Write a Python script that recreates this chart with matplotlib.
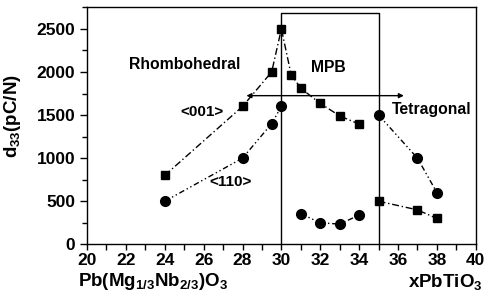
import numpy as np
import matplotlib.pyplot as plt

plt.rcParams['font.family'] = ['Liberation Sans', 'DejaVu Sans']
plt.rcParams['font.weight'] = 'bold'
plt.rcParams['mathtext.fontset'] = 'custom'
plt.rcParams['mathtext.rm'] = 'Liberation Sans:bold'
plt.rcParams['mathtext.it'] = 'Liberation Sans:bold'
plt.rcParams['mathtext.bf'] = 'Liberation Sans:bold'

# <001> squares, rhombohedral side + MPB
sq1_x = [24, 28, 29.5, 30, 30.5, 31, 32, 33, 34]
sq1_y = [800, 1600, 2000, 2500, 1970, 1810, 1635, 1490, 1395]
# <001> squares, tetragonal side
sq2_x = [35, 37, 38]
sq2_y = [500, 400, 300]
# <110> circles
ci1_x = [24, 28, 29.5, 30]
ci1_y = [500, 1000, 1400, 1600]
ci2_x = [31, 32, 33, 34]
ci2_y = [355, 250, 235, 340]
ci3_x = [35, 37, 38]
ci3_y = [1500, 1000, 600]

fig = plt.figure(figsize=(4.86, 2.98), dpi=100)
ax = fig.add_axes([0.179, 0.180, 0.800, 0.7955])

ls_sq = (0, (5, 2, 1, 2))
ls_ci = (0, (4, 2, 1, 2, 1, 2))
for x, y in [(sq1_x, sq1_y), (sq2_x, sq2_y)]:
    ax.plot(x, y, color='black', lw=1, ls=ls_sq, marker='s', ms=6)
for x, y in [(ci1_x, ci1_y), (ci2_x, ci2_y), (ci3_x, ci3_y)]:
    ax.plot(x, y, color='black', lw=1, ls=ls_ci, marker='o', ms=7)

# MPB box
ax.plot([30, 30, 35, 35], [0, 2680, 2680, 0], color='black', lw=1)
# double arrow
ax.annotate('', xy=(28.2, 1725), xytext=(36.3, 1725),
            arrowprops=dict(arrowstyle='<|-|>', color='black', lw=1,
                            mutation_scale=7, shrinkA=0, shrinkB=0))

ax.text(25, 2090, 'Rhombohedral', ha='center', va='center', fontsize=11.3)
ax.text(32.4, 2050, 'MPB', ha='center', va='center', fontsize=11.3)
ax.text(37.75, 1570, 'Tetragonal', ha='center', va='center', fontsize=11.3)
ax.text(25.9, 1530, '<001>', ha='center', va='center', fontsize=11)
ax.text(27.4, 720, '<110>', ha='center', va='center', fontsize=11)

ax.set_xlim(20, 40)
ax.set_ylim(0, 2740)
ax.set_xticks(np.arange(20, 41, 2))
ax.set_xticks(np.arange(20, 41, 1), minor=True)
ax.set_yticks(np.arange(0, 2501, 500))
ax.set_yticks(np.arange(0, 2751, 250), minor=True)
ax.tick_params(which='both', direction='out', width=1, labelsize=12.5)
ax.tick_params(axis='x', which='both', length=4, pad=2.5)
ax.tick_params(axis='y', which='major', length=5, pad=3.5)
ax.tick_params(axis='y', which='minor', length=3.5)
for lab in ax.get_xticklabels() + ax.get_yticklabels():
    lab.set_fontweight('bold')
for s in ax.spines.values():
    s.set_linewidth(1)

ax.set_ylabel(r'$\mathrm{d_{33}(pC/N)}$', fontsize=13.5)
ax.yaxis.set_label_coords(-0.165, 0.54)

fig.text(78 / 486, 1 - 281 / 298, r'$\mathrm{Pb(Mg_{1/3}Nb_{2/3})O_3}$',
         ha='left', va='center', fontsize=13.5)
fig.text(483 / 486, 1 - 282 / 298, r'$\mathrm{xPbTiO_3}$',
         ha='right', va='center', fontsize=13.5)

plt.savefig('out.png', dpi=100)
